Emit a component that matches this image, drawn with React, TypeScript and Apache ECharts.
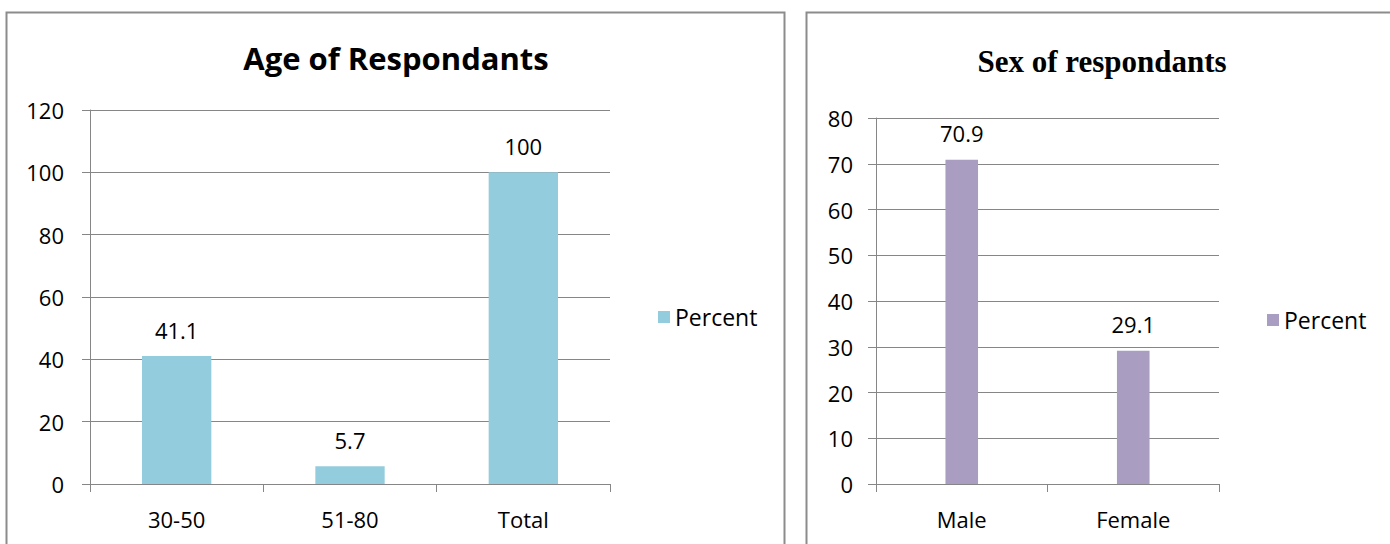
import React, { useEffect, useRef } from "react";
import * as echarts from "echarts";

const ageCategories = ["30-50", "51-80", "Total"];
const ageValues = [41.1, 5.7, 100];
const sexCategories = ["Male", "Female"];
const sexValues = [70.9, 29.1];
const seriesName = "Percent";

const FONT = "'Open Sans', sans-serif";
const GRAY = "#868686";

export default function App() {
  const ref = useRef<HTMLDivElement>(null);
  useEffect(() => {
    if (!ref.current) return;
    const chart = echarts.init(ref.current, null, { renderer: "svg" });
    const axisLine = { show: true, lineStyle: { color: GRAY, width: 1 } };
    const labelStyle = { color: "#000", fontFamily: FONT, fontSize: 22 };
    chart.setOption({
      animation: false,
      backgroundColor: "#fff",
      grid: [
        { left: 90, top: 110, width: 520, height: 374 },
        { left: 876, top: 118, width: 343, height: 366 },
      ],
      xAxis: [
        {
          type: "category",
          gridIndex: 0,
          data: ageCategories,
          axisLine,
          axisTick: { show: true, length: 8, lineStyle: { color: GRAY } },
          axisLabel: { ...labelStyle, margin: 24 },
        },
        {
          type: "category",
          gridIndex: 1,
          data: sexCategories,
          axisLine,
          axisTick: { show: true, length: 8, lineStyle: { color: GRAY } },
          axisLabel: { ...labelStyle, margin: 24 },
        },
      ],
      yAxis: [
        {
          type: "value",
          gridIndex: 0,
          min: 0,
          max: 120,
          interval: 20,
          axisLine,
          axisTick: { show: true, length: 8, lineStyle: { color: GRAY } },
          splitLine: { show: true, lineStyle: { color: GRAY } },
          axisLabel: { ...labelStyle, margin: 26 },
        },
        {
          type: "value",
          gridIndex: 1,
          min: 0,
          max: 80,
          interval: 10,
          axisLine,
          axisTick: { show: true, length: 8, lineStyle: { color: GRAY } },
          splitLine: { show: true, lineStyle: { color: GRAY } },
          axisLabel: { ...labelStyle, margin: 23 },
        },
      ],
      legend: [
        {
          left: 653,
          top: 299,
          icon: "rect",
          itemWidth: 12,
          itemHeight: 12,
          itemGap: 10,
          textStyle: { ...labelStyle, fontSize: 23, lineHeight: 26 },
          data: [{ name: seriesName, itemStyle: { color: "#93CDDD" } }],
          selectedMode: false,
        },
        {
          left: 1262,
          top: 302,
          icon: "rect",
          itemWidth: 12,
          itemHeight: 12,
          itemGap: 10,
          textStyle: { ...labelStyle, fontSize: 23, lineHeight: 26 },
          data: [{ name: seriesName, itemStyle: { color: "#A99DC2" } }],
          selectedMode: false,
        },
      ],
      series: [
        {
          name: seriesName,
          type: "bar",
          xAxisIndex: 0,
          yAxisIndex: 0,
          data: ageValues,
          barWidth: "40%",
          itemStyle: { color: "#93CDDD" },
          label: { show: true, position: "top", distance: 15, ...labelStyle },
        },
        {
          name: seriesName,
          type: "bar",
          xAxisIndex: 1,
          yAxisIndex: 1,
          data: sexValues,
          barWidth: "19%",
          itemStyle: { color: "#A99DC2" },
          label: { show: true, position: "top", distance: 16, ...labelStyle },
        },
      ],
      graphic: [
        {
          type: "rect",
          shape: { x: 6.5, y: 12.5, width: 778, height: 600 },
          style: { fill: "none", stroke: "#8c8c8c", lineWidth: 2 },
          silent: true,
        },
        {
          type: "rect",
          shape: { x: 806.5, y: 12.5, width: 700, height: 600 },
          style: { fill: "none", stroke: "#8c8c8c", lineWidth: 2 },
          silent: true,
        },
        {
          type: "text",
          x: 396,
          y: 58,
          style: {
            text: "Age of Respondants",
            fill: "#000",
            font: "bold 31px 'Open Sans', sans-serif",
            textAlign: "center",
            textVerticalAlign: "middle",
          },
        },
        {
          type: "text",
          x: 1102,
          y: 61,
          style: {
            text: "Sex of respondants",
            fill: "#000",
            font: "bold 31px 'Liberation Serif', serif",
            textAlign: "center",
            textVerticalAlign: "middle",
          },
        },
      ],
    });
    return () => chart.dispose();
  }, []);
  return (
    <div
      ref={ref}
      style={{ position: "fixed", left: 0, top: 0, width: 1390, height: 544 }}
    />
  );
}
